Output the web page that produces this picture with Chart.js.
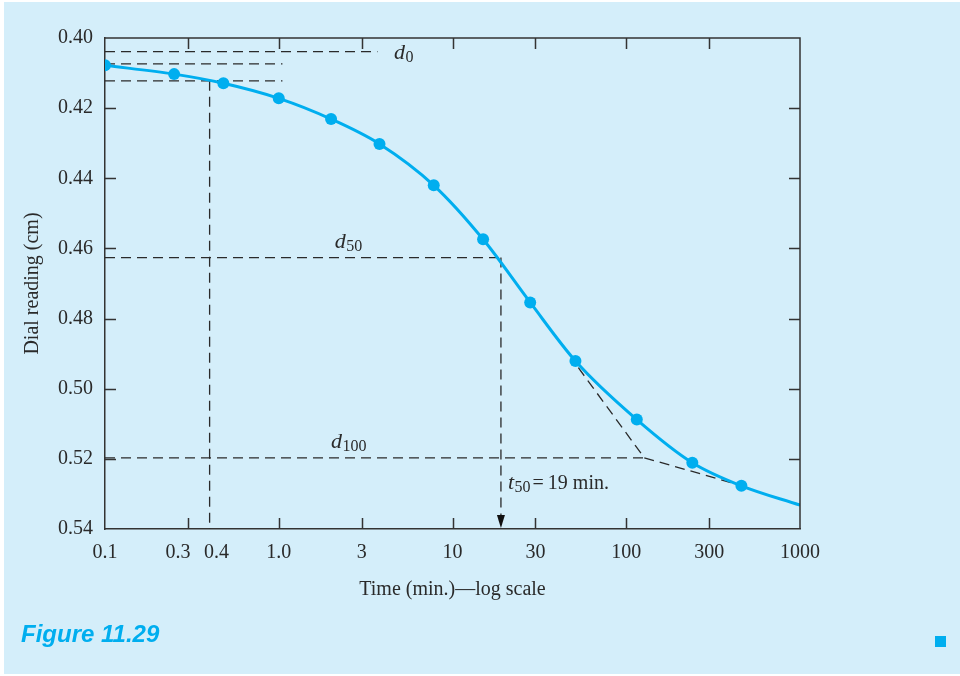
<!DOCTYPE html>
<html><head><meta charset="utf-8">
<script src="https://cdn.jsdelivr.net/npm/chart.js@4.4.1/dist/chart.umd.min.js"></script>
<style>
html,body{margin:0;padding:0;background:#ffffff;width:960px;height:676px;overflow:hidden;}
#bg{position:absolute;left:4px;top:2px;width:956px;height:672px;background:#d4eefa;}
#c{position:absolute;left:0;top:0;}
#cap{position:absolute;left:21px;top:620px;font:italic bold 24px "Liberation Sans",Arial,sans-serif;color:#00aeef;white-space:nowrap;}
#sq{position:absolute;left:935px;top:636px;width:11px;height:11px;background:#00aeef;}
</style></head>
<body>
<div id="bg"></div>
<canvas id="c" width="960" height="676"></canvas>
<div id="cap">Figure 11.29</div>
<div id="sq"></div>
<script>
// ---- data ----
const times    = [0.1, 0.25, 0.48, 1, 2, 3.8, 7.8, 15, 28, 51, 115, 240, 460];
const readings = [0.4078, 0.4103, 0.4129, 0.4172, 0.4231, 0.4302, 0.4420, 0.4574, 0.4754, 0.4921, 0.5088, 0.5211, 0.5277];
const curveEndTime    = [1000];
const curveEndReading = [0.5332];

const xTickValues = [0.1, 0.3, 0.4, 1, 3, 10, 30, 100, 300, 1000];
const xTickLabels = ['0.1', '0.3\u2003', '\u2002\u20090.4', '1.0', '3', '10', '30', '100', '300', '1000'];
const xTickMarks  = [0.3, 1, 3, 10, 30, 100, 300];
const yTickValues = [0.40, 0.42, 0.44, 0.46, 0.48, 0.50, 0.52, 0.54];
const yTickMarks  = [0.42, 0.44, 0.46, 0.48, 0.50, 0.52];

// construction lines (Casagrande method)
const d0Times   = [0.1, 3.7];   const d0Readings   = [0.4039, 0.4039];
const r01Times  = [0.1, 1.05];  const r01Readings  = [0.4074, 0.4074];
const r04Times  = [0.1, 1.05];  const r04Readings  = [0.4122, 0.4122];
const v04Times  = [0.4, 0.4];   const v04Readings  = [0.4122, 0.54];
const d50Times  = [0.1, 19];    const d50Readings  = [0.4626, 0.4626];
const t50Times  = [19, 19];     const t50Readings  = [0.4626, 0.5365];
const d100Times = [0.1, 127];   const d100Readings = [0.5197, 0.5197];
const tan1Times = [53, 127];    const tan1Readings = [0.4940, 0.5197];
const tan2Times = [127, 430];   const tan2Readings = [0.5197, 0.5272];

const t50Value = 19;
const d0Label = {t: 4.6, d: 0.4039};
const d50Label = {t: 2.1, d: 0.4626};
const d100Label = {t: 2.0, d: 0.5197};

const CYAN = '#00aeef';
const INK = '#2a2a2a';
const SERIF = '"Liberation Serif","Times New Roman",serif';

const pts = (ts, ds) => ts.map((t, i) => ({x: t, y: ds[i]}));
const dashed = (ts, ds) => ({
  data: pts(ts, ds), borderColor: INK, borderWidth: 1.3, borderDash: [10, 6],
  pointRadius: 0, tension: 0, fill: false
});

const curveData = pts(times.concat(curveEndTime), readings.concat(curveEndReading));
const curveRadius = times.map(() => 6).concat(curveEndTime.map(() => 0));

function drawSub(ctx, main, sub, x, y, mainStyle) {
  ctx.font = (mainStyle || 'italic') + ' 22px ' + SERIF;
  ctx.fillText(main, x, y);
  const w = ctx.measureText(main).width;
  ctx.font = '16px ' + SERIF;
  ctx.fillText(sub, x + w + 0.5, y + 3);
  return x + w + 0.5 + ctx.measureText(sub).width;
}

const framePlugin = {
  id: 'frame',
  afterDraw(chart) {
    const {ctx, chartArea: a, scales: {x, y}} = chart;
    ctx.save();
    ctx.strokeStyle = '#333';
    ctx.lineWidth = 1.5;
    ctx.beginPath();
    ctx.moveTo(a.left, a.top); ctx.lineTo(a.right, a.top); ctx.lineTo(a.right, a.bottom);
    const L = 11;
    xTickMarks.forEach(v => {
      const px = Math.round(x.getPixelForValue(v)) + 0.5;
      ctx.moveTo(px, a.bottom); ctx.lineTo(px, a.bottom - L);
      ctx.moveTo(px, a.top); ctx.lineTo(px, a.top + L);
    });
    yTickMarks.forEach(v => {
      const py = Math.round(y.getPixelForValue(v)) + 0.5;
      ctx.moveTo(a.left, py); ctx.lineTo(a.left + L, py);
      ctx.moveTo(a.right, py); ctx.lineTo(a.right - L, py);
    });
    ctx.stroke();
    // arrow head at t50
    const ax = x.getPixelForValue(t50Value);
    ctx.fillStyle = '#111';
    ctx.beginPath();
    ctx.moveTo(ax - 4, a.bottom - 14); ctx.lineTo(ax + 4, a.bottom - 14); ctx.lineTo(ax, a.bottom - 1);
    ctx.closePath(); ctx.fill();
    // labels
    ctx.fillStyle = INK;
    ctx.textBaseline = 'alphabetic';
    ctx.textAlign = 'left';
    drawSub(ctx, 'd', '0', x.getPixelForValue(d0Label.t), y.getPixelForValue(d0Label.d) + 7);
    drawSub(ctx, 'd', '50', x.getPixelForValue(d50Label.t), y.getPixelForValue(d50Label.d) - 10);
    drawSub(ctx, 'd', '100', x.getPixelForValue(d100Label.t), y.getPixelForValue(d100Label.d) - 10);
    const tx = x.getPixelForValue(t50Value) + 7;
    const ty = a.bottom - 40;
    const end = drawSub(ctx, 't', '50', tx, ty);
    ctx.font = '20px ' + SERIF;
    ctx.fillText('=\u200919 min.', end + 2, ty);
    ctx.restore();
  }
};

new Chart(document.getElementById('c'), {
  type: 'line',
  data: {
    datasets: [
      {data: curveData, borderColor: CYAN, backgroundColor: CYAN, borderWidth: 3,
       pointRadius: curveRadius, pointBackgroundColor: CYAN, pointBorderWidth: 0,
       cubicInterpolationMode: 'monotone', fill: false},
      dashed(d0Times, d0Readings),
      dashed(r01Times, r01Readings),
      dashed(r04Times, r04Readings),
      dashed(v04Times, v04Readings),
      dashed(d50Times, d50Readings),
      dashed(t50Times, t50Readings),
      dashed(d100Times, d100Readings),
      dashed(tan1Times, tan1Readings),
      dashed(tan2Times, tan2Readings)
    ]
  },
  options: {
    responsive: false,
    animation: false,
    devicePixelRatio: 1,
    layout: {padding: {left: 0, top: 38, right: 160, bottom: 74}},
    plugins: {legend: {display: false}, tooltip: {enabled: false}},
    scales: {
      x: {
        type: 'logarithmic', min: 0.1, max: 1000, position: 'bottom',
        afterBuildTicks: s => { s.ticks = xTickValues.map(v => ({value: v})); },
        ticks: {
          callback: (v, i) => xTickLabels[i], autoSkip: false, maxRotation: 0,
          padding: 12, color: INK, font: {family: SERIF, size: 20}
        },
        grid: {display: false, drawTicks: false},
        border: {display: true, color: '#333', width: 1.5},
        title: {display: true, text: 'Time (min.)\u2014log scale', color: INK,
                font: {family: SERIF, size: 20}, padding: {top: 1, bottom: 0}}
      },
      y: {
        type: 'linear', reverse: true, min: 0.40, max: 0.54, position: 'left',
        afterBuildTicks: s => { s.ticks = yTickValues.map(v => ({value: v})); },
        afterFit: s => { s.width = 105; },
        ticks: {
          callback: v => v.toFixed(2), padding: 12, color: INK,
          font: {family: SERIF, size: 20}
        },
        grid: {display: false, drawTicks: false},
        border: {display: true, color: '#333', width: 1.5},
        title: {display: true, text: 'Dial reading (cm)', color: INK,
                font: {family: SERIF, size: 20}, padding: {top: 21, bottom: 0}}
      }
    }
  },
  plugins: [framePlugin]
});
</script>
</body></html>
